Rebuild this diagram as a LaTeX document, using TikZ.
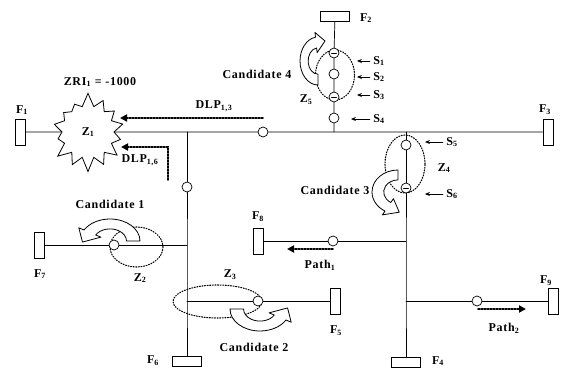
\documentclass[tikz,border=0pt]{standalone}
\usepackage{fontspec}
\setmainfont{Liberation Serif}[LetterSpace=6]
\usetikzlibrary{arrows.meta,shapes.symbols}

\begin{document}
\begin{tikzpicture}[x=1pt,y=1pt,line cap=round,font=\fontsize{12}{14}\selectfont\bfseries,
  line/.style={line width=.7pt},
  feedv/.style={draw,line width=.8pt,fill=white,minimum width=10pt,minimum height=26pt,inner sep=0pt},
  feedh/.style={draw,line width=.8pt,fill=white,minimum width=29pt,minimum height=10pt,inner sep=0pt},
  sw/.style={circle,draw,line width=.7pt,fill=white,minimum size=10pt,inner sep=0pt},
  swminus/.style={sw,path picture={\draw[line width=.6pt] ([xshift=2.5pt]path picture bounding box.west) -- ([xshift=-2.5pt]path picture bounding box.east);}},
  swdot/.style={sw,path picture={\fill (path picture bounding box.center) circle (1.1pt);}},
  zone/.style={line width=1.1pt,dash pattern=on 1pt off 1.6pt},
  flow/.style={line width=1.8pt,dash pattern=on 1.6pt off 1.4pt,-{Triangle[length=7pt,width=7pt]}},
  pointer/.style={line width=.7pt,-{Stealth[length=5pt,width=4pt]}},
  fatarrow/.style={line width=.8pt,fill=white,line join=round},
  pics/turn/.style={code={\draw[fatarrow] (.55,0) -- (1,0) arc[start angle=0,end angle=#1,radius=1] -- (#1:1.2) -- (#1+33:.92) -- (#1:.35) -- (#1:.55) arc[start angle=#1,end angle=0,radius=.55] -- cycle;}}]
  \useasboundingbox (0,0) rectangle (561,370);
  % dotted zones
  \draw[zone] (335,295) ellipse [x radius=19.5,y radius=25];
  \draw[zone] (405,206) ellipse [x radius=20,y radius=29];
  \draw[zone] (136.5,123) ellipse [x radius=26.5,y radius=20];
  \draw[zone] (217.5,68.5) ellipse [x radius=44.5,y radius=16.5];
  % feeders
  \node[feedv] (f1) at (20,238) {}; \node[feedh] (f2) at (335,354) {}; \node[feedv] (f3) at (548,238) {};
  \node[feedh] (f4) at (406,8) {}; \node[feedv] (f5) at (335,69) {}; \node[feedh] (f6) at (187,9) {};
  \node[feedv] (f7) at (39,125) {}; \node[feedv] (f8) at (258.5,129) {}; \node[feedv] (f9) at (553,69) {};
  \node[starburst,draw,line width=.8pt,fill=white,starburst points=14,starburst point height=14pt,random starburst=7,minimum width=80pt,minimum height=80pt,inner sep=0pt] (z1) at (88,238) {Z\textsubscript{1}};
  % junctions and switches
  \coordinate (ja) at (187,238); \coordinate (jb) at (334,238); \coordinate (jc) at (406,238);
  \coordinate (jd) at (187,125); \coordinate (je) at (187,69); \coordinate (jf) at (406,129); \coordinate (jg) at (406,69);
  \node[sw] (swa) at (263,238) {}; \node[sw] (swb) at (187,183) {};
  \node[swminus] (s1) at (334,317) {}; \node[sw] (s2) at (334,296) {}; \node[swminus] (s3) at (334,273) {}; \node[sw] (s4) at (334,252) {};
  \node[sw] (s5) at (406,225) {}; \node[swminus] (s6) at (406,182) {};
  \node[swdot] (sz2) at (114,125) {}; \node[swdot] (sz3) at (258,69) {};
  \node[sw] (sw8) at (333,129) {}; \node[sw] (sw9) at (477,69) {};
  % lines
  \draw[line] (f1) -- (z1); \draw[line] (z1) -- (swa) -- (jc) -- (f3);
  \draw[line] (ja) -- (swb) -- (jd) -- (je) -- (f6);
  \draw[line] (jb) -- (s4) -- (s3) -- (s2) -- (s1) -- (f2);
  \draw[line] (jc) -- (s5) -- (s6) -- (jf) -- (jg) -- (f4);
  \draw[line] (f7) -- (sz2) -- (jd); \draw[line] (je) -- (sz3) -- (f5);
  \draw[line] (f8) -- (sw8) -- (jf); \draw[line] (jg) -- (sw9) -- (f9);
  % candidate moves
  \pic[xscale=30,yscale=22] at (110,129) {turn=150};
  \pic[xscale=-30,yscale=-22] at (260,61) {turn=150};
  \pic[rotate=90,xscale=22,yscale=26] at (398,178) {turn=150};
  \pic[rotate=90,xscale=-24,yscale=18] at (318,309) {turn=172};
  % flows
  \coordinate (d13s) at (263,252); \coordinate (d13e) at (120,252);
  \coordinate (d16s) at (168,190); \coordinate (d16e) at (121,223);
  \coordinate (p1s) at (333,121); \coordinate (p1e) at (287,121);
  \coordinate (p2s) at (478,61); \coordinate (p2e) at (526,61);
  \draw[flow] (d13s) -- (d13e); \draw[flow] (d16s) |- (d16e);
  \draw[flow] (p1s) -- (p1e); \draw[flow] (p2s) -- (p2e);
  % labels
  \node (lf1) at (22,260) {F\textsubscript{1}}; \node (lf2) at (366,352) {F\textsubscript{2}}; \node (lf3) at (545,260) {F\textsubscript{3}};
  \node (lf4) at (438,9) {F\textsubscript{4}}; \node (lf5) at (336,39) {F\textsubscript{5}}; \node (lf6) at (153,9) {F\textsubscript{6}};
  \node (lf7) at (40,96) {F\textsubscript{7}}; \node (lf8) at (258,153) {F\textsubscript{8}}; \node (lf9) at (546,89) {F\textsubscript{9}};
  \node (lzri) at (100,288) {ZRI\textsubscript{1} = -1000};
  \node (ld13) at (214,264) {DLP\textsubscript{1,3}}; \node (ld16) at (140,210) {DLP\textsubscript{1,6}};
  \node (lp1) at (320,105) {Path\textsubscript{1}}; \node (lp2) at (504,42) {Path\textsubscript{2}};
  \node (lz2) at (140,92) {Z\textsubscript{2}}; \node (lz3) at (230,95) {Z\textsubscript{3}};
  \node (lz4) at (444,202) {Z\textsubscript{4}}; \node (lz5) at (306,270) {Z\textsubscript{5}};
  \node (lc1) at (110,166) {Candidate 1}; \node (lc2) at (254,23) {Candidate 2};
  \node (lc3) at (335,180) {Candidate 3}; \node (lc4) at (257,296) {Candidate 4};
  \node (ls1) at (379,309) {S\textsubscript{1}}; \node (ls2) at (379,293) {S\textsubscript{2}};
  \node (ls3) at (379,275) {S\textsubscript{3}}; \node (ls4) at (379,251) {S\textsubscript{4}};
  \node (ls5) at (452,228) {S\textsubscript{5}}; \node (ls6) at (452,176) {S\textsubscript{6}};
  \draw[pointer] (ls1.west) -- ++(-13,0); \draw[pointer] (ls2.west) -- ++(-13,0);
  \draw[pointer] (ls3.west) -- ++(-13,0); \draw[pointer] (ls4.west) -- ++(-19,0);
  \draw[pointer] (ls5.west) -- ++(-18,0); \draw[pointer] (ls6.west) -- ++(-18,0);
\end{tikzpicture}
\end{document}
